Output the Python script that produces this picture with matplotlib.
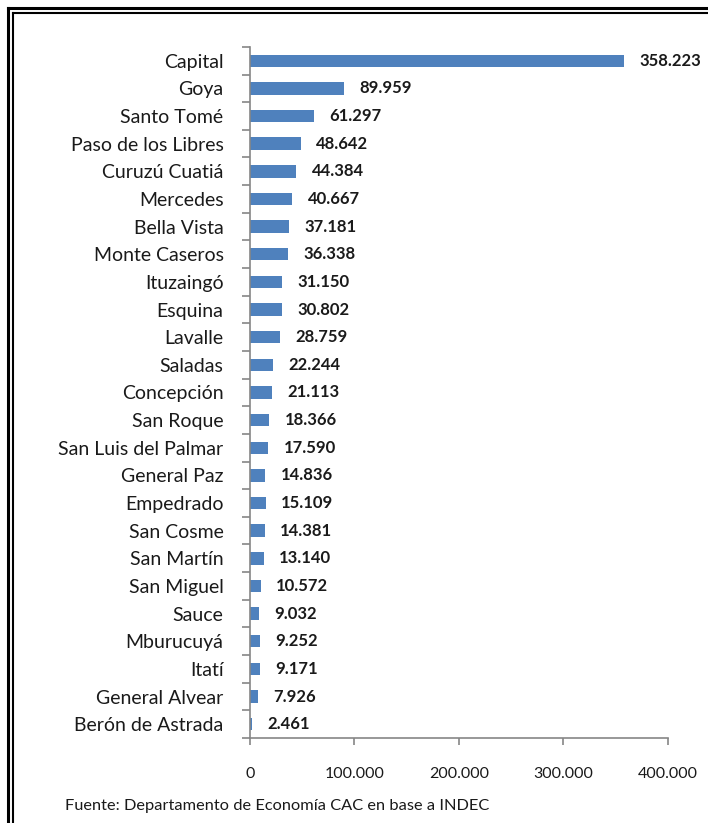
import matplotlib.pyplot as plt
from matplotlib.lines import Line2D
from matplotlib.ticker import FuncFormatter
import numpy as np

# departamentos y poblacion
departamentos = ['Capital', 'Goya', 'Santo Tomé', 'Paso de los Libres', 'Curuzú Cuatiá',
                 'Mercedes', 'Bella Vista', 'Monte Caseros', 'Ituzaingó', 'Esquina',
                 'Lavalle', 'Saladas', 'Concepción', 'San Roque', 'San Luis del Palmar',
                 'General Paz', 'Empedrado', 'San Cosme', 'San Martín', 'San Miguel',
                 'Sauce', 'Mburucuyá', 'Itatí', 'General Alvear', 'Berón de Astrada']
poblacion = [358223, 89959, 61297, 48642, 44384, 40667, 37181, 36338, 31150, 30802,
             28759, 22244, 21113, 18366, 17590, 14836, 15109, 14381, 13140, 10572,
             9032, 9252, 9171, 7926, 2461]
xticks = [0, 100000, 200000, 300000, 400000]

plt.rcParams['font.family'] = ['Lato', 'DejaVu Sans']

def miles(v):
    return f'{int(v):,}'.replace(',', '.')

fig = plt.figure(figsize=(7.08, 8.23), dpi=100)
ax = fig.add_axes([0.353, 0.1033, 0.5905, 0.8397])

y = np.arange(len(departamentos))
ax.barh(y, poblacion, height=0.45, color='#4F81BD')
ax.set_ylim(len(departamentos) - 0.5, -0.5)
ax.set_xlim(0, 400000)

for yi, v in zip(y, poblacion):
    ax.annotate(miles(v), (v, yi), xytext=(11, 0), textcoords='offset points',
                va='center', ha='left', fontsize=12, fontweight='bold', color='#1a1a1a')

ax.set_yticks(y)
ax.set_yticklabels(departamentos, fontsize=14, color='#1a1a1a')
ax.set_yticks(np.arange(-0.5, len(departamentos)), minor=True)
ax.tick_params(axis='y', which='major', length=0, pad=19)
ax.tick_params(axis='y', which='minor', length=6, width=1.2, color='#868686', direction='out')

ax.set_xticks(xticks)
ax.xaxis.set_major_formatter(FuncFormatter(lambda v, p: miles(v)))
ax.tick_params(axis='x', length=5, width=1.2, color='#868686', pad=16, labelsize=11.5,
               labelcolor='#1a1a1a')

for s in ['top', 'right']:
    ax.spines[s].set_visible(False)
for s in ['left', 'bottom']:
    ax.spines[s].set_color('#868686')
    ax.spines[s].set_linewidth(1.2)

fig.text(65 / 708, 1 - 806 / 823, 'Fuente: Departamento de Economía CAC en base a INDEC',
         fontsize=11.8, va='center', ha='left', color='#1a1a1a')

# marco doble
W, H = 708, 823
def px(x, yy):
    return x / W, 1 - yy / H
for off, lw in [(8, 2.2), (12.5, 1.5)]:
    x0, y0 = px(off, off)
    fig.add_artist(Line2D([x0, x0], [0, y0], color='black', lw=lw, transform=fig.transFigure))
    fig.add_artist(Line2D([x0, 1], [y0, y0], color='black', lw=lw, transform=fig.transFigure))

fig.savefig('out.png', dpi=100)
